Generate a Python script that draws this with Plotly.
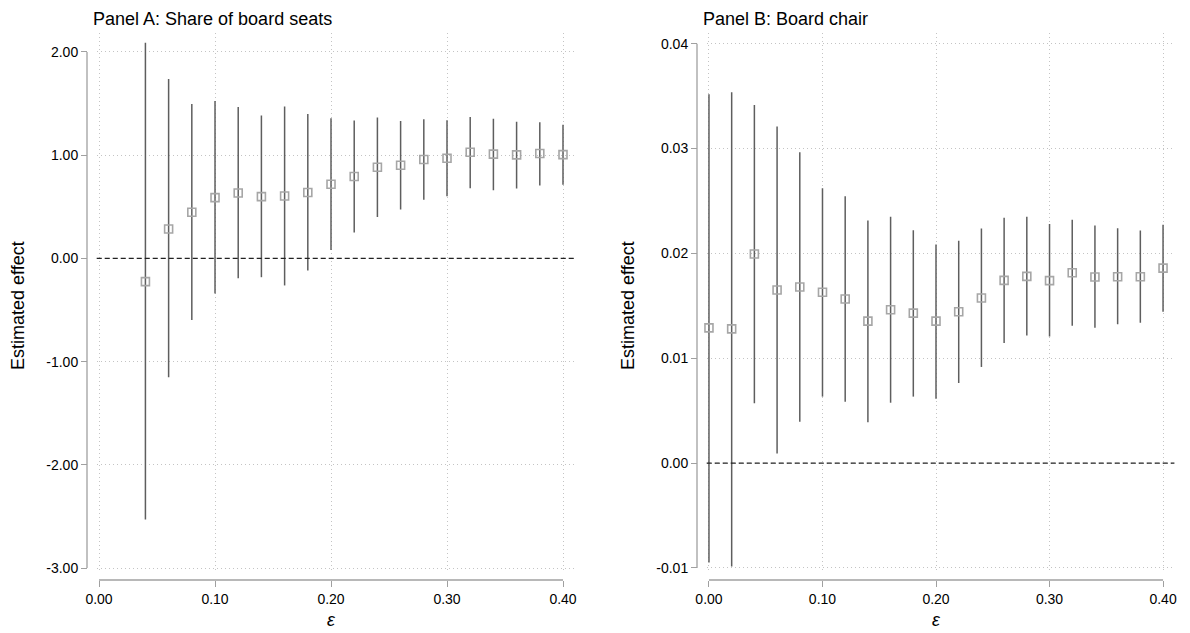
import plotly.graph_objects as go

# ---------------- data ----------------
eps_a = [0.04, 0.06, 0.08, 0.10, 0.12, 0.14, 0.16, 0.18, 0.20, 0.22,
         0.24, 0.26, 0.28, 0.30, 0.32, 0.34, 0.36, 0.38, 0.40]
est_a = [-0.225, 0.285, 0.447, 0.589, 0.634, 0.599, 0.605, 0.638, 0.718, 0.793,
         0.883, 0.903, 0.958, 0.971, 1.029, 1.010, 1.003, 1.016, 1.006]
lo_a = [-2.53, -1.152, -0.597, -0.340, -0.191, -0.182, -0.262, -0.117, 0.081, 0.252,
        0.401, 0.474, 0.568, 0.603, 0.681, 0.661, 0.677, 0.706, 0.713]
hi_a = [2.09, 1.738, 1.495, 1.524, 1.466, 1.385, 1.472, 1.398, 1.359, 1.337,
        1.366, 1.332, 1.348, 1.339, 1.371, 1.352, 1.323, 1.319, 1.294]

eps_b = [0.00, 0.02, 0.04, 0.06, 0.08, 0.10, 0.12, 0.14, 0.16, 0.18, 0.20,
         0.22, 0.24, 0.26, 0.28, 0.30, 0.32, 0.34, 0.36, 0.38, 0.40]
est_b = [0.0129, 0.0128, 0.01994, 0.01651, 0.01679, 0.01629, 0.01565, 0.01354, 0.01462, 0.0143, 0.01354,
         0.01443, 0.01575, 0.01743, 0.01781, 0.0174, 0.01816, 0.01775, 0.01778, 0.01778, 0.0186]
lo_b = [-0.00949, -0.00987, 0.0057, 0.00092, 0.00395, 0.00634, 0.00586, 0.00389, 0.00576, 0.00634, 0.00615,
        0.00764, 0.00917, 0.01146, 0.01217, 0.01207, 0.01309, 0.0129, 0.01325, 0.01338, 0.01443]
hi_b = [0.03517, 0.03537, 0.03416, 0.0321, 0.02965, 0.02622, 0.02546, 0.02314, 0.02349, 0.02222, 0.02086,
        0.02121, 0.02238, 0.0234, 0.02349, 0.0228, 0.02321, 0.02267, 0.02241, 0.02219, 0.02273]

x_ticks = [0.0, 0.1, 0.2, 0.3, 0.4]
y_ticks_a = [-3, -2, -1, 0, 1, 2]
y_ticks_b = [-0.01, 0.0, 0.01, 0.02, 0.03, 0.04]

titles = ["Panel A: Share of board seats", "Panel B: Board chair"]
y_title = "Estimated effect"
x_title = "<i>ε</i>"

# ---------------- styles ----------------
FONT = "Liberation Sans, Arial, Helvetica, sans-serif"
CI_COLOR = "#5e5e5e"
MK_COLOR = "#a6a6a6"
AX_COLOR = "#a0a0a0"
GRID_COLOR = "#c4c4c4"

W, H = 1190, 633
OFF = 8  # page body margin: screen pixel = paper pixel + OFF


def px_x(p):
    return (p - OFF) / W


def px_y(p):
    return 1 - (p - OFF) / H


fig = go.Figure()


def add_panel(xs, est, lo, hi, xa, ya):
    fig.add_trace(go.Scatter(
        x=xs, y=est, mode="markers", xaxis=xa, yaxis=ya,
        marker=dict(symbol="square-open", size=8, color=MK_COLOR,
                    line=dict(width=1.6, color=MK_COLOR)),
        error_y=dict(type="data", symmetric=False,
                     array=[h - e for h, e in zip(hi, est)],
                     arrayminus=[e - l for e, l in zip(est, lo)],
                     width=0, thickness=1.5, color=CI_COLOR),
        showlegend=False, cliponaxis=False,
    ))


add_panel(eps_a, est_a, lo_a, hi_a, "x", "y")
add_panel(eps_b, est_b, lo_b, hi_b, "x2", "y2")

y_dom = [px_y(573), px_y(33)]
x_pos = px_y(580)

common_x = dict(
    anchor="free", position=x_pos, range=[-0.002, 0.41],
    tickvals=x_ticks, ticktext=[f"{v:.2f}" for v in x_ticks],
    ticks="outside", ticklen=6, tickwidth=1.2, tickcolor=AX_COLOR,
    showline=False, zeroline=False,
    showgrid=True, griddash="1px,3px", gridcolor=GRID_COLOR, gridwidth=1,
    tickfont=dict(size=14, color="black", family=FONT),
)
common_y = dict(
    anchor="free", domain=y_dom,
    ticks="outside", ticklen=6, tickwidth=1.2, tickcolor=AX_COLOR,
    showline=False, zeroline=False,
    showgrid=True, griddash="1px,3px", gridcolor=GRID_COLOR, gridwidth=1,
    tickfont=dict(size=14, color="black", family=FONT),
)

yA_pos = px_x(87)
yB_pos = px_x(697)

fig.update_layout(
    width=W, height=H,
    margin=dict(l=0, r=0, t=0, b=0, pad=0, autoexpand=False),
    paper_bgcolor="white", plot_bgcolor="white",
    font=dict(family=FONT, color="black"),
    xaxis=dict(domain=[px_x(96.7), px_x(574.6)], **common_x),
    xaxis2=dict(domain=[px_x(706.7), px_x(1174.4)], **common_x),
    yaxis=dict(position=yA_pos, range=[-3.048, 2.184],
               tickvals=y_ticks_a, ticktext=[f"{v:.2f}" for v in y_ticks_a], **common_y),
    yaxis2=dict(position=yB_pos, range=[-0.01048, 0.04102],
                tickvals=y_ticks_b, ticktext=[f"{v:.2f}" for v in y_ticks_b], **common_y),
)

shapes = []
for xr, yr, ypos, yt in [("x", "y", yA_pos, y_ticks_a), ("x2", "y2", yB_pos, y_ticks_b)]:
    # zero reference line
    shapes.append(dict(type="line", xref=f"{xr} domain", yref=yr, x0=0, x1=1, y0=0, y1=0,
                       line=dict(color="#222222", width=1.2, dash="5px,3px")))
    # y axis line spanning the tick range
    shapes.append(dict(type="line", xref="paper", yref=yr, x0=ypos, x1=ypos,
                       y0=min(yt), y1=max(yt), line=dict(color=AX_COLOR, width=1.3)))
    # x axis line spanning the tick range
    shapes.append(dict(type="line", xref=xr, yref="paper", x0=min(x_ticks), x1=max(x_ticks),
                       y0=x_pos, y1=x_pos, line=dict(color=AX_COLOR, width=1.3)))
fig.update_layout(shapes=shapes)

ann = []
for i, (tx, yx, xr) in enumerate([(px_x(91), px_x(18), "x"), (px_x(701), px_x(628), "x2")]):
    ann.append(dict(text=titles[i], xref="paper", yref="paper", x=tx, y=px_y(19.5),
                    xanchor="left", yanchor="middle", showarrow=False,
                    font=dict(size=18, family=FONT, color="black")))
    ann.append(dict(text=y_title, xref="paper", yref="paper", x=yx, y=px_y(306),
                    xanchor="center", yanchor="middle", textangle=-90, showarrow=False,
                    font=dict(size=18, family=FONT, color="black")))
    ann.append(dict(text=x_title, xref=xr, yref="paper", x=0.2, y=px_y(620),
                    xanchor="center", yanchor="middle", showarrow=False,
                    font=dict(size=18, family=FONT, color="black")))
fig.update_layout(annotations=ann)

fig.write_html("out.html")
